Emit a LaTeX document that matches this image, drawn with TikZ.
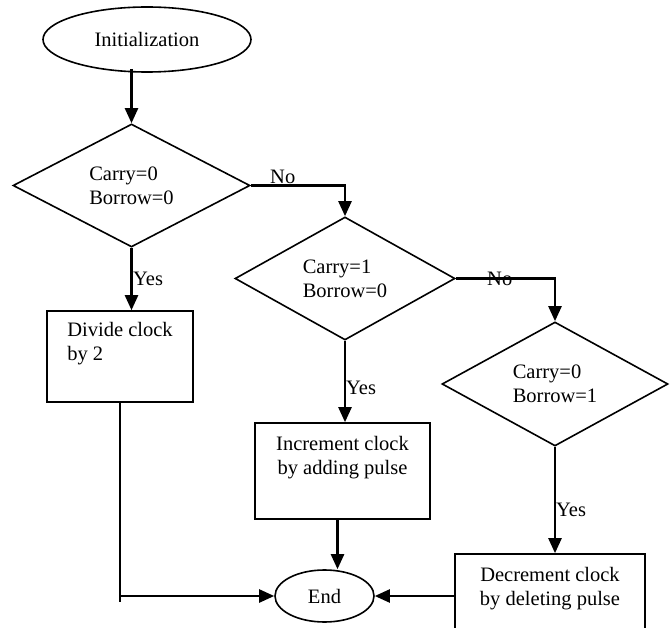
\documentclass[tikz,border=0pt]{standalone}
\usepackage{fontspec}
\setmainfont{Liberation Serif}
\newfontfamily\timesfont{Liberation Serif}
\usetikzlibrary{shapes.geometric,arrows.meta}
\begin{document}
\begin{tikzpicture}[x=1pt,y=-1pt,
  every node/.style={font=\timesfont\fontsize{20.5}{24}\selectfont},
  shapeline/.style={draw,line width=1.6pt},
  decision/.style={shapeline,diamond,inner sep=0pt,align=left},
  procbox/.style={shapeline,rectangle,inner sep=0pt},
  term/.style={shapeline,ellipse,inner sep=0pt},
  arr/.style={line width=2.4pt,-{Triangle[length=15pt,width=13pt]}},
  plain/.style={line width=2.4pt},
  lbl/.style={inner sep=0pt}]
\useasboundingbox (0,0) rectangle (672,628);

% shapes
\node[term,minimum width=208pt,minimum height=65pt] (init) at (147,39.5) {Initialization};
\node[decision,minimum width=237pt,minimum height=123pt] (d1) at (131.5,185.5) {Carry=0\\Borrow=0};
\node[decision,minimum width=220pt,minimum height=123pt] (d2) at (345,278.5) {Carry=1\\Borrow=0};
\node[decision,minimum width=226pt,minimum height=124pt] (d3) at (555,384) {Carry=0\\Borrow=1};
\node[procbox,align=left,minimum width=146pt,minimum height=91pt] (box1) at (120,356.5) {Divide clock\\by 2\\\strut};
\node[procbox,align=center,minimum width=175pt,minimum height=96pt] (box2) at (342.5,471) {Increment clock\\by adding pulse\\\strut};
\node[procbox,align=center,minimum width=190pt,minimum height=96pt] (box3) at (550,602) {Decrement clock\\by deleting pulse\\\strut};
\node[term,minimum width=99pt,minimum height=52pt] (end) at (324.5,596) {End};

% connectors
\draw[arr] ([yshift=4pt]d1.north |- init.south) -- (d1.north);
\draw[arr] (d1.east) -- (d1.east -| d2.north) -- (d2.north);
\draw[arr] (d2.east) -- (d2.east -| d3.north) -- (d3.north);
\draw[arr] (d1.south) -- (d1.south |- box1.north);
\draw[arr] (d2.south) -- (d2.south |- box2.north);
\draw[arr] (d3.south) -- (d3.south |- box3.north);
\draw[arr] ([xshift=-5pt]box2.south) -- ([xshift=-5pt]box2.south |- end.north);
\coordinate (c1) at (120,602);
\draw[plain] (box1.south) -- (c1);
\draw[arr] (c1 |- end.west) -- (end.west);
\draw[arr] (box3.west |- end.east) -- (end.east);

% labels
\node[lbl,anchor=west] (no1) at (270,177) {No};
\node[lbl,anchor=west] (no2) at (487,279) {No};
\node[lbl,anchor=west] (yes1) at (133,279) {Yes};
\node[lbl,anchor=west] (yes2) at (346,388) {Yes};
\node[lbl,anchor=west] (yes3) at (556,510) {Yes};
\end{tikzpicture}
\end{document}
